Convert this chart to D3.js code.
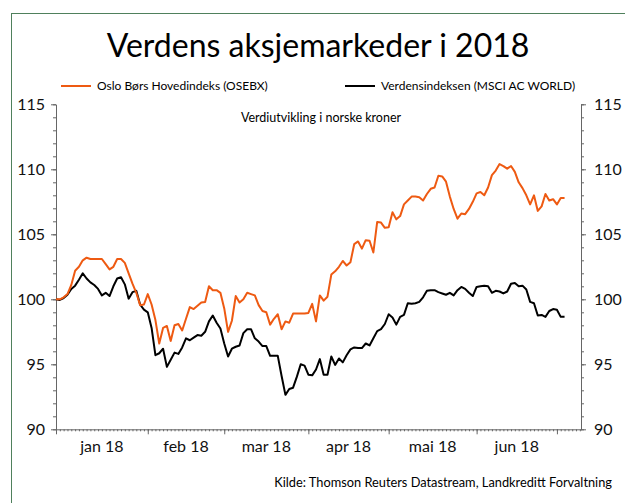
<!DOCTYPE html>
<html lang="no">
<head>
<meta charset="UTF-8">
<title>Verdens aksjemarkeder i 2018</title>
<script src="https://d3js.org/d3.v7.min.js"></script>
<style>
  html, body { margin: 0; padding: 0; background: #fff; }
  svg { display: block; font-family: Lato, "Open Sans", sans-serif; }
  .title { font-size: 32px; fill: #000; }
  .legend-text { font-size: 12px; fill: #000; }
  .sub { font-size: 12.5px; fill: #000; }
  .tick-label { font-size: 16px; fill: #111; }
  .src { font-size: 12.8px; fill: #000; }
  .axis path, .axis line { stroke: #666; }
</style>
</head>
<body>
<svg width="625" height="503"></svg>
<script>
// trading days from 29.12.2017, index 0 = 100
const osebx = [
  100.0, 100.0, 100.15, 100.4, 101.1, 102.2, 102.5, 103.0, 103.2, 103.1,
  103.1, 103.1, 103.1, 102.7, 102.3, 102.5, 103.1, 103.1, 102.8, 102.0,
  101.2, 100.5, 99.55, 99.6, 100.4, 99.6, 98.4, 96.6, 97.8, 97.95,
  96.8, 98.0, 98.1, 97.6, 98.5, 99.4, 99.25, 99.5, 99.75, 99.8,
  101.0, 100.7, 100.7, 100.5, 99.3, 97.5, 98.35, 100.25, 99.75, 100.0,
  100.5, 100.4, 100.3, 99.55, 99.1, 99.0, 98.05, 98.5, 98.85, 97.7,
  98.3, 98.2, 98.9, 98.9, 98.9, 98.9, 98.95, 99.65, 98.3, 100.3,
  99.9, 100.2, 101.9, 102.15, 102.5, 102.95, 102.6, 102.85, 104.25, 104.45,
  103.9, 104.55, 104.5, 103.6, 105.95, 105.9, 105.5, 105.55, 106.7, 106.15,
  106.4, 107.3, 107.6, 107.9, 107.9, 107.85, 107.6, 108.1, 108.5, 108.6,
  109.5, 109.45, 109.05, 107.9, 106.95, 106.2, 106.6, 106.55, 106.95, 107.5,
  108.15, 108.25, 108.0, 108.6, 109.55, 109.9, 110.4, 110.25, 110.05, 110.25,
  109.8, 109.0, 108.55, 108.0, 107.3, 108.0, 106.8, 107.15, 108.1, 107.6,
  107.7, 107.3, 107.8, 107.8
];
const msciWorld = [
  100.0, 99.95, 100.1, 100.35, 100.8, 101.05, 101.5, 102.0, 101.6, 101.3,
  101.1, 100.8, 100.3, 100.5, 100.25, 101.0, 101.6, 101.7, 101.15, 100.05,
  100.55, 100.65, 99.6, 99.2, 99.0, 97.8, 95.7, 95.85, 96.2, 94.8,
  95.35, 95.9, 95.8, 96.3, 97.0, 96.85, 97.05, 97.25, 97.2, 97.5,
  98.3, 98.75, 98.2, 97.75, 96.6, 95.6, 96.2, 96.35, 96.45, 97.4,
  97.7, 97.7, 97.0, 96.75, 96.4, 96.4, 95.65, 95.65, 95.65, 94.1,
  92.65, 93.1, 93.2, 94.05, 95.0, 94.9, 94.2, 94.15, 94.6, 95.4,
  94.2, 94.2, 95.6, 94.95, 95.45, 95.15, 95.7, 96.15, 96.3, 96.25,
  96.25, 96.6, 96.45, 97.0, 97.55, 97.7, 98.1, 98.85, 98.6, 98.05,
  98.65, 98.8, 99.7, 99.65, 99.7, 99.8, 100.15, 100.65, 100.7, 100.7,
  100.55, 100.45, 100.35, 100.5, 100.3, 100.7, 100.95, 100.8, 100.5, 100.25,
  100.95, 101.0, 101.05, 101.0, 100.5, 100.65, 100.6, 100.45, 100.6, 101.2,
  101.25, 101.0, 101.05, 100.75, 99.8, 99.7, 98.75, 98.8, 98.65, 99.1,
  99.25, 99.2, 98.65, 98.65
];
const monthLabels = ["jan 18", "feb 18", "mar 18", "apr 18", "mai 18", "jun 18"];
const monthStarts = [0, 24, 44, 66, 87, 110, 131];   // trading-day index of each month start
const axisDays = 137.3;
const yTicks = [90, 95, 100, 105, 110, 115];

const svg = d3.select("svg");

// outer frame (runs off the right and bottom edges)
svg.append("rect")
   .attr("x", 11.5).attr("y", 13.5)
   .attr("width", 700).attr("height", 600)
   .attr("fill", "none")
   .attr("stroke", "#4f805c")
   .attr("stroke-width", 1);

svg.append("text")
   .attr("class", "title")
   .attr("x", 318).attr("y", 57)
   .attr("text-anchor", "middle")
   .text("Verdens aksjemarkeder i 2018");

const margin = { left: 56, right: 44, top: 104.3, bottom: 73.7 };
const width = 625 - margin.left - margin.right;
const height = 503 - margin.top - margin.bottom;

const g = svg.append("g").attr("transform", `translate(${margin.left},${margin.top})`);

const x = d3.scaleLinear().domain([0, axisDays]).range([0, width]);
const y = d3.scaleLinear().domain([90, 115]).range([height, 0]);

// legend
const legend = [
  { name: "Oslo Børs Hovedindeks (OSEBX)", color: "#ee5a12", x: 61 },
  { name: "Verdensindeksen (MSCI AC WORLD)", color: "#000", x: 345 }
];
legend.forEach(l => {
  svg.append("line")
     .attr("x1", l.x).attr("x2", l.x + 30)
     .attr("y1", 86).attr("y2", 86)
     .attr("stroke", l.color).attr("stroke-width", 2);
  svg.append("text")
     .attr("class", "legend-text")
     .attr("x", l.x + 36).attr("y", 90)
     .text(l.name);
});

svg.append("text")
   .attr("class", "sub")
   .attr("x", 321).attr("y", 122)
   .attr("text-anchor", "middle")
   .text("Verdiutvikling i norske kroner");

// y axes, minor + major
function yAxis(side) {
  const mk = side === "left" ? d3.axisLeft : d3.axisRight;
  const gx = side === "left" ? 0 : width;
  g.append("g").attr("class", "axis")
   .attr("transform", `translate(${gx},0)`)
   .call(mk(y).tickValues(d3.range(90, 115.5, 1)).tickSize(3).tickSizeOuter(0).tickFormat(""));
  const ax = g.append("g").attr("class", "axis")
   .attr("transform", `translate(${gx},0)`)
   .call(mk(y).tickValues(yTicks).tickSize(5).tickSizeOuter(0).tickPadding(side === "left" ? 6 : 8));
  ax.selectAll("text").attr("class", "tick-label").attr("fill", null).style("font-size", null);
  ax.attr("font-size", null).attr("font-family", null);
}
yAxis("left");
yAxis("right");

// x axis: daily minor ticks, month starts as major ticks
const xa = g.append("g").attr("class", "axis")
   .attr("transform", `translate(0,${height})`);
xa.call(d3.axisBottom(x).tickValues(d3.range(0, axisDays, 1)).tickSize(2).tickSizeOuter(0).tickFormat(""));
xa.append("g")
  .call(d3.axisBottom(x).tickValues(monthStarts).tickSize(5).tickFormat(""))
  .select(".domain").remove();

g.selectAll(".month-label")
 .data(monthLabels)
 .enter().append("text")
 .attr("class", "tick-label month-label")
 .attr("x", (d, i) => x((monthStarts[i] + monthStarts[i + 1]) / 2))
 .attr("y", height + 23)
 .attr("text-anchor", "middle")
 .text(d => d);

// lines
const line = d3.line()
  .x((d, i) => x(i))
  .y(d => y(d));

g.append("path")
 .datum(msciWorld)
 .attr("fill", "none")
 .attr("stroke", "#000")
 .attr("stroke-width", 2)
 .attr("stroke-linejoin", "round")
 .attr("d", line);

g.append("path")
 .datum(osebx)
 .attr("fill", "none")
 .attr("stroke", "#ee5a12")
 .attr("stroke-width", 2)
 .attr("stroke-linejoin", "round")
 .attr("d", line);

svg.append("text")
   .attr("class", "src")
   .attr("x", 612).attr("y", 487)
   .attr("text-anchor", "end")
   .text("Kilde: Thomson Reuters Datastream, Landkreditt Forvaltning");
</script>
</body>
</html>
